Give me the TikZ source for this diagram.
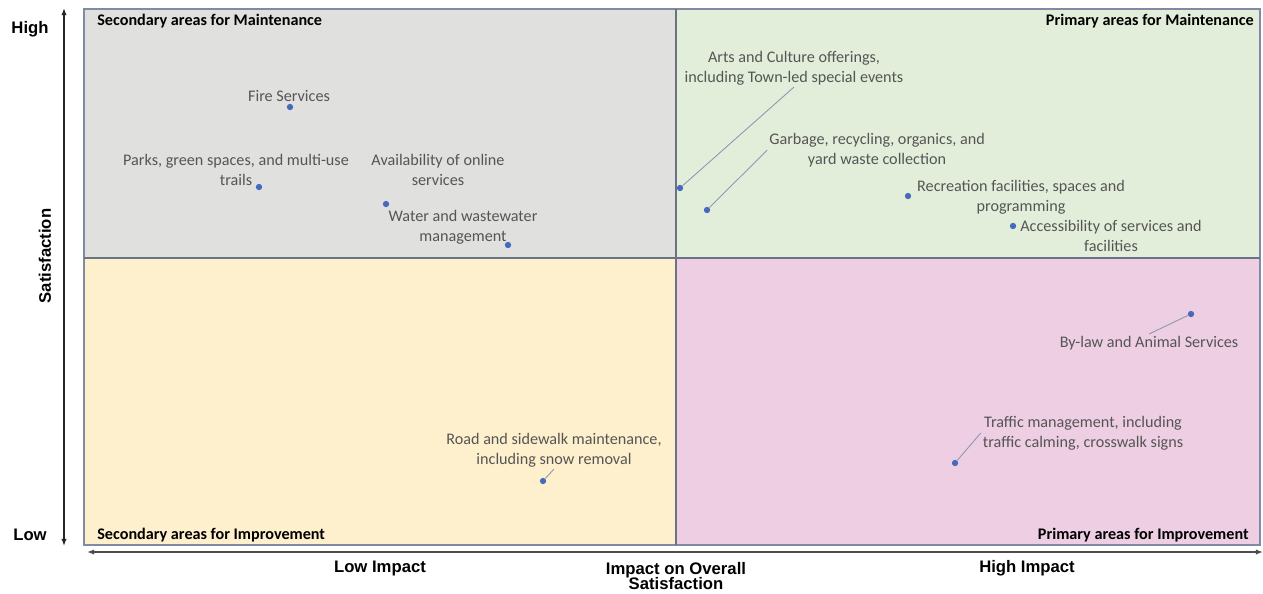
\documentclass[tikz,border=0pt]{standalone}
\usepackage{fontspec}
\setmainfont{Carlito}
\newfontfamily\axisfont{Liberation Sans}
\usetikzlibrary{positioning,arrows.meta}
\definecolor{maintgray}{RGB}{224,224,223}
\definecolor{maintgreen}{RGB}{226,238,218}
\definecolor{imprvyellow}{RGB}{254,240,204}
\definecolor{imprvpink}{RGB}{237,206,226}
\definecolor{edgeblue}{RGB}{128,138,165}
\definecolor{splitgray}{RGB}{105,115,130}
\definecolor{dotblue}{RGB}{70,105,190}
\definecolor{itemgray}{RGB}{85,85,85}
\definecolor{leadgray}{RGB}{140,152,178}

\tikzset{
    pt/.style={circle, fill=dotblue, inner sep=0pt, minimum size=3.6pt},
    item/.style={text=itemgray, align=center, inner sep=1pt, font=\fontsize{9.2}{11.3}\selectfont},
    quad/.style={inner sep=0pt, font=\fontsize{9.2}{11}\selectfont\bfseries},
    axlbl/.style={inner sep=0pt, font=\axisfont\fontsize{9.5}{9}\selectfont\bfseries, align=center},
    lead/.style={leadgray, line width=0.5pt}
}

\begin{document}
\begin{tikzpicture}[x=0.02cm, y=-0.02cm, >={Latex[length=4pt,width=3pt]}]
    \useasboundingbox (0,0) rectangle (1263,593);

    % Quadrants
    \fill[maintgray] (84,9) rectangle (676,258);
    \fill[maintgreen] (676,9) rectangle (1260,258);
    \fill[imprvyellow] (84,258) rectangle (676,545);
    \fill[imprvpink] (676,258) rectangle (1260,545);
    \draw[edgeblue, line width=0.6pt] (84,9) rectangle (1260,545);
    \draw[splitgray, line width=1.1pt] (84,258) -- (1260,258);
    \draw[splitgray, line width=0.6pt] (676,9) -- (676,545);

    % Quadrant titles
    \node[quad, anchor=west] (smaint) at (97,21) {Secondary areas for Maintenance};
    \node[quad, anchor=east] (pmaint) at (1254,21) {Primary areas for Maintenance};
    \node[quad, anchor=west] (simprv) at (97,535) {Secondary areas for Improvement};
    \node[quad, anchor=east] (pimprv) at (1249,535) {Primary areas for Improvement};

    % Axes
    \coordinate (ylo) at (64,546);
    \coordinate (yhi) at (64,8);
    \coordinate (xlo) at (87,552);
    \coordinate (xhi) at (1263,552);
    \draw[<->, line width=0.8pt, black!85] (ylo) -- (yhi);
    \draw[<->, line width=1.1pt, black!70] (xlo) -- (xhi);
    \node[axlbl] (high) at (30,29) {High};
    \node[axlbl] (low) at (30,535) {Low};
    \node[axlbl, rotate=90] (sat) at (45,256) {Satisfaction};
    \node[axlbl] (lowimp) at (380,568) {Low Impact};
    \node[axlbl] (midimp) at (676,576) {Impact on Overall\\Satisfaction};
    \node[axlbl] (highimp) at (1027,568) {High Impact};

    % Services (secondary maintenance)
    \node[pt] (fire) at (290,107) {};
    \node[item] (firetxt) at (289,96) {Fire Services};
    \node[pt] (parks) at (259,187) {};
    \node[item] (parkstxt) at (236,170) {Parks, green spaces, and multi-use\\trails};
    \node[pt] (online) at (386,204) {};
    \node[item] (onlinetxt) at (438,170) {Availability of online\\services};
    \node[pt] (water) at (508,245) {};
    \node[item] (watertxt) at (463,227) {Water and wastewater\\management};

    % Services (primary maintenance)
    \node[pt] (arts) at (680,188) {};
    \node[item] (artstxt) at (794,68) {Arts and Culture offerings,\\including Town-led special events};
    \draw[lead] (arts) -- (artstxt.south);
    \node[pt] (garb) at (707,210) {};
    \node[item] (garbtxt) at (877,150) {Garbage, recycling, organics, and\\yard waste collection};
    \draw[lead] (garb) -- (garbtxt.west);
    \node[pt] (recr) at (908,196) {};
    \node[item] (recrtxt) at (1021,197) {Recreation facilities, spaces and\\programming};
    \node[pt] (access) at (1013,226) {};
    \node[item] (accesstxt) at (1111,236) {Accessibility of services and\\facilities};

    % Services (primary improvement)
    \node[pt] (bylaw) at (1191,314) {};
    \node[item] (bylawtxt) at (1149,343) {By-law and Animal Services};
    \draw[lead] (bylaw) -- (bylawtxt.north);
    \node[pt] (traffic) at (955,463) {};
    \node[item] (traffictxt) at (1083,433) {Traffic management, including\\traffic calming, crosswalk signs};
    \draw[lead] (traffic) -- (traffictxt.west);

    % Services (secondary improvement)
    \node[pt] (road) at (543,481) {};
    \node[item] (roadtxt) at (554,450) {Road and sidewalk maintenance,\\including snow removal};
    \draw[lead] (road) -- (roadtxt.south);
\end{tikzpicture}
\end{document}
